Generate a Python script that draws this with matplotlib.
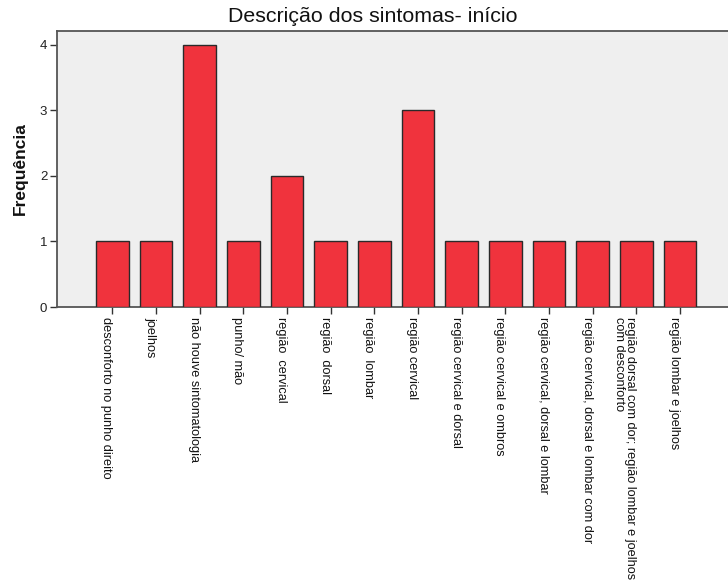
import matplotlib
matplotlib.use("Agg")
import matplotlib.pyplot as plt
from matplotlib.transforms import ScaledTranslation

plt.rcParams['font.family'] = ['Liberation Sans', 'DejaVu Sans']

categories = [
    "desconforto no punho direito",
    "joelhos",
    "não houve sintomatologia",
    "punho/ mão",
    "região  cervical",
    "região  dorsal",
    "região  lombar",
    "região cervical",
    "região cervical e dorsal",
    "região cervical e ombros",
    "região cervical, dorsal e lombar",
    "região cervical, dorsal e lombar com dor",
    "região dorsal com dor; região lombar e joelhos\ncom desconforto",
    "região lombar e joelhos",
]
frequencies = [1, 1, 4, 1, 2, 1, 1, 3, 1, 1, 1, 1, 1, 1]
yticks = [0, 1, 2, 3, 4]

W, H = 728, 585
fig = plt.figure(figsize=(W / 100, H / 100), dpi=100)
ax = fig.add_axes([57 / W, 1 - 307 / H, 1 - 57 / W, (307 - 31) / H])
ax.set_facecolor('#efefef')

x = list(range(len(categories)))
ax.bar(x, frequencies, width=0.75, color='#f0333d', edgecolor='#2a2a2a',
       linewidth=1.0, zorder=3)

ax.set_xlim(-1.266, 14.1)
ax.set_ylim(0, 4.21)
ax.set_yticks(yticks)
ax.set_yticklabels([str(v) for v in yticks], fontsize=9.5, color='#222222')

ax.set_xticks(x)
ax.set_xticklabels(categories, rotation=-90, rotation_mode='anchor',
                   ha='left', va='top', fontsize=9.2, color='#111111',
                   linespacing=0.95)
offset = ScaledTranslation(8 / 100, 0, fig.dpi_scale_trans)
for lbl in ax.get_xticklabels():
    lbl.set_transform(lbl.get_transform() + offset)

ax.tick_params(axis='both', direction='out', length=5, width=1,
               color='#333333')
ax.tick_params(axis='x', pad=2)
ax.tick_params(axis='y', pad=2)

for side in ('left', 'top', 'bottom'):
    ax.spines[side].set_color('#555555')
    ax.spines[side].set_linewidth(1.3)
ax.spines['right'].set_visible(False)

fig.text(373 / W, 1 - 16 / H, "Descrição dos sintomas- início",
         ha='center', va='center', fontsize=15.4, color='#111111')
fig.text(20 / W, 1 - 169 / H, "Frequência", rotation=90, ha='center',
         va='center', fontsize=12.5, fontweight='bold', color='#111111')

fig.savefig("out.png", dpi=100)
